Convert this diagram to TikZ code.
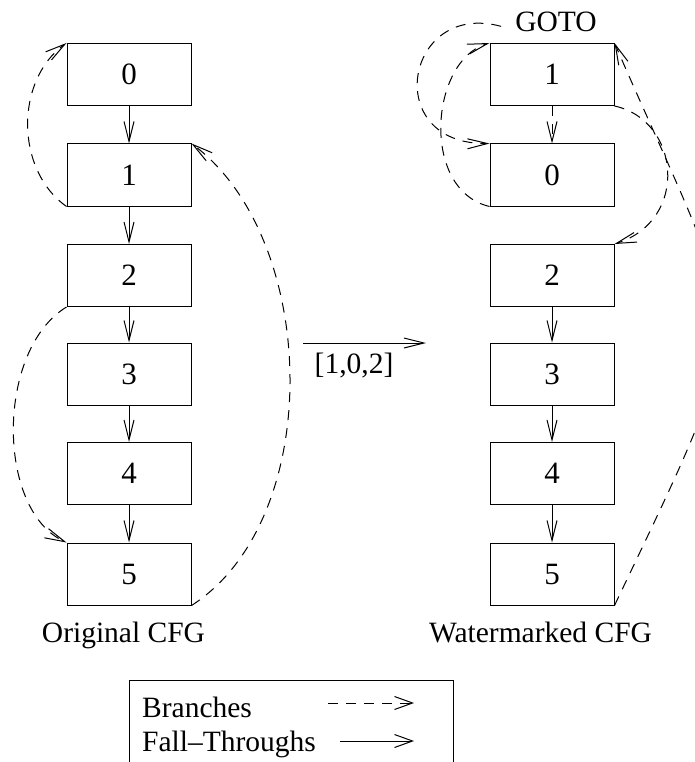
\documentclass[tikz,border=0pt]{standalone}
\usepackage{fontspec}
\setmainfont{Liberation Serif}
\usetikzlibrary{arrows.meta}
\tikzset{
  txt/.style={font=\fontsize{29.5}{34}\selectfont, inner sep=0pt},
  block/.style={draw, line width=1pt, minimum width=124pt, minimum height=62pt,
    inner sep=0pt, font=\fontsize{31}{36}\selectfont},
  tip/.style={-{Straight Barb[length=20pt, width=10pt, line width=1pt]}},
  fall/.style={tip, line width=1pt},
  branch/.style={tip, line width=1pt, dash pattern=on 10pt off 8pt},
}
\begin{document}
\begin{tikzpicture}[x=1pt, y=-1pt]
\useasboundingbox (0,0) rectangle (695,762);

% original control flow graph
\node[block] (a0) at (129,74.5) {0};
\node[block] (a1) at (129,175) {1};
\node[block] (a2) at (129,275.5) {2};
\node[block] (a3) at (129,374) {3};
\node[block] (a4) at (129,473.5) {4};
\node[block] (a5) at (129,574) {5};
\node[txt, anchor=base] (lorig) at (123.5,642) {Original CFG};

\draw[fall] (a0.south) -- (a1.north);
\draw[fall] (a1.south) -- (a2.north);
\draw[fall] (a2.south) -- (a3.north);
\draw[fall] (a3.south) -- (a4.north);
\draw[fall] (a4.south) -- (a5.north);

\draw[branch] (a1.south west) .. controls (15,170) and (15,80) .. (a0.north west);
\draw[branch] (a2.south west) .. controls (-4,350) and (-4,510) .. (a5.north west);
\draw[branch] (a5.south east) .. controls (325,520) and (320,240) .. (a1.north east);

% transformation arrow
\coordinate (tfrom) at (303,343);
\coordinate (tto) at (426,343);
\draw[fall] (tfrom) -- (tto);
\node[txt, anchor=base] (perm) at (354,373) {[1,0,2]};

% watermarked control flow graph
\node[block] (b1) at (552,74.5) {1};
\node[block] (b0) at (552,175) {0};
\node[block] (b2) at (552,275.5) {2};
\node[block] (b3) at (552,374) {3};
\node[block] (b4) at (552,473.5) {4};
\node[block] (b5) at (552,574) {5};
\node[txt, anchor=base] (goto) at (556,32) {GOTO};
\node[txt, anchor=base] (lwm) at (540.5,642) {Watermarked CFG};

\draw[fall] (b2.south) -- (b3.north);
\draw[fall] (b3.south) -- (b4.north);
\draw[fall] (b4.south) -- (b5.north);

\draw[branch] (b1.south) -- (b0.north);
\draw[branch] ([xshift=-14pt,yshift=-4pt]goto.west) .. controls (405,0) and (380,145) .. (b0.north west);
\draw[branch] (b0.south west) .. controls (420,190) and (430,60) .. (b1.north west);
\draw[branch] (b1.south east) .. controls (680,120) and (690,220) .. (b2.north east);
\draw[branch] (b5.south east) .. controls (760,300) and (748,350) .. (b1.north east);

% legend
\node[draw, line width=1pt, minimum width=324pt, minimum height=130pt, anchor=north west,
  inner sep=0pt] (legend) at (129,680) {};
\node[txt, anchor=base west] (lbr) at (142,717) {Branches};
\node[txt, anchor=base west] (lft) at (142,751) {Fall–Throughs};
\coordinate (brfrom) at (328,703);
\coordinate (brto) at (414,703);
\coordinate (ftfrom) at (340,741);
\coordinate (ftto) at (414,741);
\draw[branch, -{Straight Barb[length=18pt, width=13pt, line width=1pt]}] (brfrom) -- (brto);
\draw[fall, -{Straight Barb[length=18pt, width=13pt, line width=1pt]}] (ftfrom) -- (ftto);
\end{tikzpicture}
\end{document}
